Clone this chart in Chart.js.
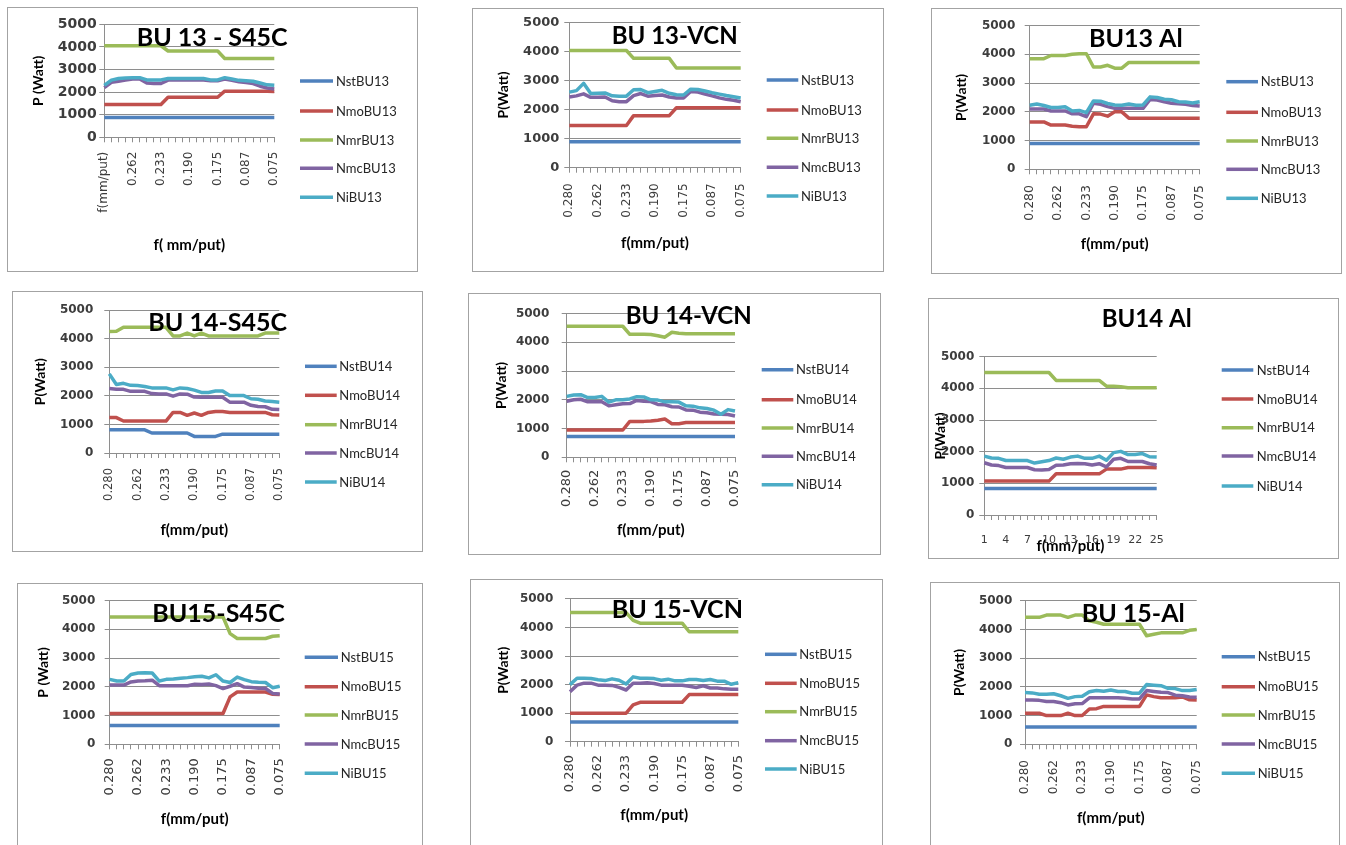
<!DOCTYPE html>
<html>
<head>
<meta charset="utf-8">
<title>Daya pemotongan BU13 / BU14 / BU15</title>
<script src="https://cdn.jsdelivr.net/npm/chart.js@4.4.0/dist/chart.umd.min.js"></script>
<style>
  html, body { margin: 0; padding: 0; background: #fff; width: 1346px; height: 845px; overflow: hidden; }
  .panel { position: absolute; border: 1px solid #a3a3a3; background: #fff; }
  .panel canvas { display: block; }
</style>
</head>
<body>
<script>
// ---- category labels (feed rate f, mm/put) ----
const feedRate = ['0.280', '', '', '', '0.262', '', '', '', '0.233', '', '', '', '0.190', '', '', '', '0.175', '', '', '', '0.087', '', '', '', '0.075'];
const feedRateFirstTitled = ['f(mm/put)', '', '', '', '0.262', '', '', '', '0.233', '', '', '', '0.190', '', '', '', '0.175', '', '', '', '0.087', '', '', '', '0.075'];
const runNo = [1, 2, 3, 4, 5, 6, 7, 8, 9, 10, 11, 12, 13, 14, 15, 16, 17, 18, 19, 20, 21, 22, 23, 24, 25];
const yTicks = [0, 1000, 2000, 3000, 4000, 5000];

// ---- BU 13 - S45C ----
const bu13S45C_Nst = [880, 880, 880, 880, 880, 880, 880, 880, 880, 880, 880, 880, 880, 880, 880, 880, 880, 880, 880, 880, 880, 880, 880, 880, 880];
const bu13S45C_Nmo = [1450, 1450, 1450, 1450, 1450, 1450, 1450, 1450, 1450, 1770, 1770, 1770, 1770, 1770, 1770, 1770, 1770, 2040, 2040, 2040, 2040, 2040, 2040, 2040, 2030];
const bu13S45C_Nmr = [4050, 4050, 4050, 4050, 4050, 4050, 4050, 4050, 4050, 3820, 3820, 3820, 3820, 3820, 3820, 3820, 3820, 3490, 3490, 3490, 3490, 3490, 3490, 3490, 3490];
const bu13S45C_Nmc = [2200, 2430, 2480, 2530, 2580, 2580, 2400, 2380, 2380, 2530, 2530, 2530, 2530, 2530, 2530, 2500, 2500, 2580, 2520, 2460, 2420, 2380, 2260, 2180, 2140];
const bu13S45C_Ni = [2300, 2530, 2600, 2620, 2640, 2640, 2540, 2540, 2540, 2600, 2600, 2600, 2600, 2600, 2600, 2540, 2540, 2640, 2580, 2520, 2500, 2480, 2400, 2320, 2300];

// ---- BU 13 - VCN ----
const bu13VCN_Nst = [890, 890, 890, 890, 890, 890, 890, 890, 890, 890, 890, 890, 890, 890, 890, 890, 890, 890, 890, 890, 890, 890, 890, 890, 890];
const bu13VCN_Nmo = [1450, 1450, 1450, 1450, 1450, 1450, 1450, 1450, 1450, 1790, 1790, 1790, 1790, 1790, 1790, 2060, 2060, 2060, 2060, 2060, 2060, 2060, 2060, 2060, 2060];
const bu13VCN_Nmr = [4030, 4030, 4030, 4030, 4030, 4030, 4030, 4030, 4030, 3760, 3760, 3760, 3760, 3760, 3760, 3430, 3430, 3430, 3430, 3430, 3430, 3430, 3430, 3430, 3430];
const bu13VCN_Nmc = [2430, 2470, 2540, 2420, 2420, 2430, 2300, 2270, 2270, 2480, 2550, 2460, 2480, 2500, 2430, 2400, 2400, 2620, 2600, 2530, 2470, 2400, 2350, 2320, 2270];
const bu13VCN_Ni = [2600, 2650, 2900, 2550, 2560, 2570, 2470, 2460, 2460, 2680, 2690, 2580, 2620, 2660, 2560, 2510, 2500, 2700, 2690, 2640, 2580, 2530, 2480, 2440, 2400];

// ---- BU13 Al ----
const bu13Al_Nst = [900, 900, 900, 900, 900, 900, 900, 900, 900, 900, 900, 900, 900, 900, 900, 900, 900, 900, 900, 900, 900, 900, 900, 900, 900];
const bu13Al_Nmo = [1650, 1650, 1650, 1540, 1540, 1540, 1500, 1480, 1480, 1930, 1920, 1850, 2000, 2000, 1780, 1780, 1780, 1780, 1780, 1780, 1780, 1780, 1780, 1780, 1780];
const bu13Al_Nmr = [3850, 3850, 3850, 3960, 3960, 3960, 4000, 4020, 4020, 3560, 3560, 3620, 3520, 3520, 3720, 3720, 3720, 3720, 3720, 3720, 3720, 3720, 3720, 3720, 3720];
const bu13Al_Nmc = [2100, 2100, 2100, 2030, 2030, 2030, 1930, 1930, 1830, 2300, 2260, 2180, 2120, 2120, 2120, 2120, 2120, 2430, 2410, 2350, 2300, 2280, 2260, 2220, 2200];
const bu13Al_Ni = [2230, 2270, 2220, 2150, 2150, 2180, 2030, 2050, 1970, 2380, 2370, 2290, 2240, 2230, 2270, 2230, 2240, 2520, 2500, 2440, 2420, 2350, 2340, 2310, 2350];

// ---- BU 14 - S45C ----
const bu14S45C_Nst = [810, 810, 810, 810, 810, 810, 700, 700, 700, 700, 700, 700, 580, 580, 580, 580, 660, 660, 660, 660, 660, 660, 660, 660, 660];
const bu14S45C_Nmo = [1240, 1240, 1120, 1120, 1120, 1120, 1120, 1120, 1120, 1420, 1420, 1320, 1400, 1320, 1420, 1450, 1450, 1420, 1420, 1420, 1420, 1420, 1420, 1340, 1330];
const bu14S45C_Nmr = [4250, 4260, 4400, 4400, 4400, 4400, 4400, 4400, 4400, 4100, 4100, 4200, 4100, 4200, 4100, 4100, 4100, 4100, 4100, 4100, 4100, 4100, 4200, 4200, 4200];
const bu14S45C_Nmc = [2260, 2230, 2230, 2160, 2160, 2160, 2080, 2070, 2070, 1990, 2070, 2060, 1960, 1950, 1950, 1950, 1950, 1780, 1780, 1780, 1670, 1630, 1620, 1530, 1520];
const bu14S45C_Ni = [2770, 2400, 2440, 2370, 2360, 2330, 2280, 2280, 2280, 2210, 2280, 2260, 2200, 2120, 2120, 2170, 2170, 2010, 2010, 2010, 1900, 1880, 1820, 1800, 1780];

// ---- BU 14 - VCN ----
const bu14VCN_Nst = [720, 720, 720, 720, 720, 720, 720, 720, 720, 720, 720, 720, 720, 720, 720, 720, 720, 720, 720, 720, 720, 720, 720, 720, 720];
const bu14VCN_Nmo = [950, 950, 950, 950, 950, 950, 950, 950, 950, 1250, 1250, 1250, 1260, 1290, 1330, 1170, 1170, 1210, 1210, 1210, 1210, 1210, 1210, 1210, 1210];
const bu14VCN_Nmr = [4560, 4560, 4560, 4560, 4560, 4560, 4560, 4560, 4560, 4280, 4280, 4280, 4270, 4230, 4180, 4350, 4320, 4300, 4300, 4300, 4300, 4300, 4300, 4300, 4300];
const bu14VCN_Nmc = [1950, 2000, 2020, 1930, 1930, 1930, 1790, 1830, 1860, 1870, 1980, 1950, 1940, 1840, 1830, 1760, 1750, 1650, 1640, 1570, 1550, 1510, 1500, 1490, 1440];
const bu14VCN_Ni = [2120, 2170, 2180, 2080, 2080, 2120, 1920, 2000, 2000, 2030, 2110, 2100, 2000, 1990, 1930, 1930, 1920, 1790, 1780, 1720, 1700, 1640, 1500, 1660, 1610];

// ---- BU14 Al ----
const bu14Al_Nst = [840, 840, 840, 840, 840, 840, 840, 840, 840, 840, 840, 840, 840, 840, 840, 840, 840, 840, 840, 840, 840, 840, 840, 840, 840];
const bu14Al_Nmo = [1070, 1070, 1070, 1070, 1070, 1070, 1070, 1070, 1070, 1070, 1300, 1300, 1300, 1300, 1300, 1300, 1300, 1450, 1450, 1450, 1500, 1500, 1500, 1500, 1490];
const bu14Al_Nmr = [4500, 4500, 4500, 4500, 4500, 4500, 4500, 4500, 4500, 4500, 4250, 4250, 4250, 4250, 4250, 4250, 4250, 4070, 4070, 4050, 4020, 4020, 4020, 4020, 4020];
const bu14Al_Nmc = [1650, 1580, 1560, 1500, 1500, 1500, 1500, 1430, 1420, 1440, 1570, 1580, 1620, 1630, 1620, 1580, 1620, 1520, 1760, 1790, 1690, 1690, 1690, 1620, 1580];
const bu14Al_Ni = [1860, 1800, 1790, 1720, 1720, 1720, 1720, 1640, 1680, 1720, 1800, 1760, 1830, 1860, 1790, 1790, 1860, 1730, 1970, 2010, 1910, 1910, 1940, 1840, 1830];

// ---- BU15 - S45C ----
const bu15S45C_Nst = [650, 650, 650, 650, 650, 650, 650, 650, 650, 650, 650, 650, 650, 650, 650, 650, 650, 650, 650, 650, 650, 650, 650, 650, 650];
const bu15S45C_Nmo = [1070, 1070, 1070, 1070, 1070, 1070, 1070, 1070, 1070, 1070, 1070, 1070, 1070, 1070, 1070, 1070, 1070, 1650, 1820, 1820, 1820, 1820, 1820, 1740, 1730];
const bu15S45C_Nmr = [4430, 4430, 4430, 4430, 4430, 4430, 4430, 4430, 4430, 4430, 4430, 4430, 4430, 4430, 4430, 4430, 4430, 3850, 3680, 3680, 3680, 3680, 3680, 3760, 3780];
const bu15S45C_Nmc = [2060, 2060, 2060, 2170, 2200, 2210, 2230, 2040, 2040, 2040, 2040, 2040, 2090, 2080, 2100, 2040, 1940, 2020, 2110, 1990, 1980, 1950, 1940, 1770, 1750];
const bu15S45C_Ni = [2260, 2200, 2200, 2430, 2480, 2490, 2480, 2200, 2260, 2270, 2300, 2320, 2350, 2370, 2310, 2420, 2200, 2150, 2340, 2250, 2180, 2160, 2150, 1970, 2020];

// ---- BU 15 - VCN ----
const bu15VCN_Nst = [690, 690, 690, 690, 690, 690, 690, 690, 690, 690, 690, 690, 690, 690, 690, 690, 690, 690, 690, 690, 690, 690, 690, 690, 690];
const bu15VCN_Nmo = [1000, 1000, 1000, 1000, 1000, 1000, 1000, 1000, 1000, 1290, 1380, 1380, 1380, 1380, 1380, 1380, 1380, 1650, 1650, 1650, 1650, 1650, 1650, 1650, 1650];
const bu15VCN_Nmr = [4520, 4520, 4520, 4520, 4520, 4520, 4520, 4520, 4520, 4250, 4150, 4150, 4150, 4150, 4150, 4150, 4150, 3850, 3850, 3850, 3850, 3850, 3850, 3850, 3850];
const bu15VCN_Nmc = [1750, 1980, 2050, 2050, 1980, 1980, 1970, 1900, 1810, 2050, 2050, 2060, 2040, 1980, 1980, 1980, 1980, 1940, 1900, 1960, 1880, 1880, 1850, 1840, 1840];
const bu15VCN_Ni = [2000, 2220, 2220, 2210, 2170, 2140, 2200, 2150, 2020, 2270, 2220, 2220, 2210, 2150, 2190, 2130, 2130, 2180, 2180, 2140, 2180, 2120, 2120, 2010, 2070];

// ---- BU 15 - Al ----
const bu15Al_Nst = [600, 600, 600, 600, 600, 600, 600, 600, 600, 600, 600, 600, 600, 600, 600, 600, 600, 600, 600, 600, 600, 600, 600, 600, 600];
const bu15Al_Nmo = [1080, 1080, 1080, 1000, 1000, 1000, 1080, 1000, 1000, 1230, 1240, 1320, 1320, 1320, 1320, 1320, 1320, 1720, 1660, 1620, 1620, 1620, 1650, 1550, 1540];
const bu15Al_Nmr = [4420, 4420, 4420, 4500, 4500, 4500, 4420, 4500, 4500, 4300, 4250, 4180, 4180, 4180, 4180, 4180, 4180, 3780, 3830, 3880, 3880, 3880, 3880, 3970, 4000];
const bu15Al_Nmc = [1540, 1540, 1530, 1490, 1490, 1450, 1370, 1410, 1420, 1620, 1620, 1620, 1620, 1620, 1600, 1580, 1580, 1870, 1840, 1810, 1800, 1710, 1690, 1650, 1640];
const bu15Al_Ni = [1800, 1790, 1740, 1740, 1760, 1690, 1600, 1660, 1670, 1830, 1870, 1850, 1890, 1840, 1840, 1780, 1780, 2080, 2060, 2040, 1950, 1940, 1870, 1870, 1910];

// ---- series names ----
const namesBU13 = ['NstBU13', 'NmoBU13', 'NmrBU13', 'NmcBU13', 'NiBU13'];
const namesBU14 = ['NstBU14', 'NmoBU14', 'NmrBU14', 'NmcBU14', 'NiBU14'];
const namesBU15 = ['NstBU15', 'NmoBU15', 'NmrBU15', 'NmcBU15', 'NiBU15'];
const seriesColors = ['#4F81BD', '#C0504D', '#9BBB59', '#8064A2', '#4BACC6'];

// ---- panel layout (box = outer border in page px, everything else in canvas px) ----
const panels = [
  { title: 'BU 13 - S45C', labels: feedRateFirstTitled, names: namesBU13,
    series: [bu13S45C_Nst, bu13S45C_Nmo, bu13S45C_Nmr, bu13S45C_Nmc, bu13S45C_Ni],
    yTitle: 'P (Watt)', xTitle: 'f( mm/put)',
    box: [7, 7, 417, 271], yWidth: 96.3, padTop: 16.3, padRight: 142.7, plotBottomC: 129.3,
    yTitlePad: 21.9, xTitlePad: 17, yPad: 2.6, ySize: 14, xSize: 12, xPad: 9.4, rot: 90,
    titleX: 128.7, titleY: 37.7, titleSize: 25,
    legX1: 292, legX2: 325, legTX: 328, legY: [73, 103, 132, 160.3, 189.3] },
  { title: 'BU 13-VCN', labels: feedRate, names: namesBU13,
    series: [bu13VCN_Nst, bu13VCN_Nmo, bu13VCN_Nmr, bu13VCN_Nmc, bu13VCN_Ni],
    yTitle: 'P(Watt)', xTitle: 'f(mm/put)',
    box: [472, 8, 883, 271], yWidth: 96.3, padTop: 13.3, padRight: 142.3, plotBottomC: 158.7,
    yTitlePad: 21.9, xTitlePad: 18.7, yPad: 5, ySize: 13, xSize: 12, xPad: 10.6, rot: 90,
    titleX: 138.7, titleY: 35.3, titleSize: 24,
    legX1: 293.7, legX2: 325.3, legTX: 328, legY: [71, 101, 129.3, 158.3, 187] },
  { title: 'BU13 Al', labels: feedRate, names: namesBU13,
    series: [bu13Al_Nst, bu13Al_Nmo, bu13Al_Nmr, bu13Al_Nmc, bu13Al_Ni],
    yTitle: 'P(Watt)', xTitle: 'f(mm/put)',
    box: [931, 8, 1341, 273], yWidth: 97.7, padTop: 15.3, padRight: 141.3, plotBottomC: 160.3,
    yTitlePad: 20.9, xTitlePad: 19.7, yPad: 9.4, ySize: 12, xSize: 12.5, xPad: 10.7, rot: 90,
    titleX: 157, titleY: 37.7, titleSize: 25,
    legX1: 294.3, legX2: 326, legTX: 328.7, legY: [72.7, 103.3, 132, 160.3, 189.3] },
  { title: 'BU 14-S45C', labels: feedRate, names: namesBU14,
    series: [bu14S45C_Nst, bu14S45C_Nmo, bu14S45C_Nmr, bu14S45C_Nmc, bu14S45C_Ni],
    yTitle: 'P(Watt)', xTitle: 'f(mm/put)',
    box: [12, 291, 422, 551], yWidth: 96.3, padTop: 16, padRight: 142.7, plotBottomC: 161,
    yTitlePad: 18.6, xTitlePad: 12, yPad: 11, ySize: 12, xSize: 11.5, xPad: 10, rot: 90,
    titleX: 135.3, titleY: 38.7, titleSize: 25,
    legX1: 292, legX2: 323.7, legTX: 326.3, legY: [74.3, 103.3, 132.7, 161, 190] },
  { title: 'BU 14-VCN', labels: feedRate, names: namesBU14,
    series: [bu14VCN_Nst, bu14VCN_Nmo, bu14VCN_Nmr, bu14VCN_Nmc, bu14VCN_Ni],
    yTitle: 'P(Watt)', xTitle: 'f(mm/put)',
    box: [468, 293, 880, 554], yWidth: 97.7, padTop: 18, padRight: 145, plotBottomC: 163.3,
    yTitlePad: 24.3, xTitlePad: 15, yPad: 12.4, ySize: 12, xSize: 13, xPad: 7.4, rot: 90,
    titleX: 156.7, titleY: 30, titleSize: 24,
    legX1: 292.7, legX2: 324.3, legTX: 327, legY: [75.7, 105.7, 134, 162.3, 190.7] },
  { title: 'BU14 Al', labels: runNo, names: namesBU14, everyThird: true,
    series: [bu14Al_Nst, bu14Al_Nmo, bu14Al_Nmr, bu14Al_Nmc, bu14Al_Ni],
    yTitle: 'P(Watt)', xTitle: 'f(mm/put)',
    box: [928, 298, 1338, 558], yWidth: 55.3, padTop: 57.7, padRight: 181.3, plotBottomC: 216,
    yTitlePad: 2.6, xTitlePad: 3.3, yPad: 5, ySize: 12, xSize: 11, xPad: 13.7, rot: 0,
    titleX: 172.7, titleY: 27.7, titleSize: 24,
    legX1: 292.7, legX2: 324.3, legTX: 327.7, legY: [71, 100, 128.7, 157, 187] },
  { title: 'BU15-S45C', labels: feedRate, names: namesBU15,
    series: [bu15S45C_Nst, bu15S45C_Nmo, bu15S45C_Nmr, bu15S45C_Nmc, bu15S45C_Ni],
    yTitle: 'P (Watt)', xTitle: 'f(mm/put)',
    box: [17, 583, 422, 848], yWidth: 91.7, padTop: 16, padRight: 142.3, plotBottomC: 160.3,
    yTitlePad: 16.6, xTitlePad: 19.7, yPad: 9.4, ySize: 12, xSize: 13, xPad: 9, rot: 90,
    titleX: 134.3, titleY: 37.7, titleSize: 25,
    legX1: 286.7, legX2: 320, legTX: 322.7, legY: [73.3, 102.7, 131, 160, 189.3] },
  { title: 'BU 15-VCN', labels: feedRate, names: namesBU15,
    series: [bu15VCN_Nst, bu15VCN_Nmo, bu15VCN_Nmr, bu15VCN_Nmc, bu15VCN_Ni],
    yTitle: 'P(Watt)', xTitle: 'f(mm/put)',
    box: [470, 579, 882, 848], yWidth: 99, padTop: 17.3, padRight: 143.7, plotBottomC: 161.7,
    yTitlePad: 23.9, xTitlePad: 24, yPad: 11.7, ySize: 12, xSize: 13, xPad: 8.3, rot: 90,
    titleX: 140.7, titleY: 38.3, titleSize: 25,
    legX1: 294, legX2: 325.7, legTX: 328.3, legY: [74.3, 103.3, 131.7, 160.7, 189] },
  { title: 'BU 15-Al', labels: feedRate, names: namesBU15,
    series: [bu15Al_Nst, bu15Al_Nmo, bu15Al_Nmr, bu15Al_Nmc, bu15Al_Ni],
    yTitle: 'P(Watt)', xTitle: 'f(mm/put)',
    box: [930, 582, 1339, 848], yWidth: 94, padTop: 17.7, padRight: 142.3, plotBottomC: 161.3,
    yTitlePad: 19.9, xTitlePad: 20.7, yPad: 7.7, ySize: 12, xSize: 12, xPad: 10.7, rot: 90,
    titleX: 150.7, titleY: 38.7, titleSize: 25,
    legX1: 290.7, legX2: 324, legTX: 326.7, legY: [73.7, 103.7, 132, 161, 190.3] }
];

const GRID = '#8e8e8e';
const TICK = '#3d3d3d';

// chart title + line legend, drawn above the series
const panelDecor = {
  id: 'panelDecor',
  afterDatasetsDraw(chart, _args, o) {
    const ctx = chart.ctx;
    ctx.save();
    chart.data.datasets.forEach((ds, i) => {
      const y = o.legY[i];
      ctx.strokeStyle = ds.borderColor;
      ctx.lineWidth = ds.borderWidth;
      ctx.lineCap = 'butt';
      ctx.beginPath();
      ctx.moveTo(o.legX1, y);
      ctx.lineTo(o.legX2, y);
      ctx.stroke();
      ctx.fillStyle = '#262626';
      ctx.font = '13px Lato';
      ctx.textAlign = 'left';
      ctx.textBaseline = 'middle';
      ctx.fillText(ds.label, o.legTX, y + 0.5);
    });
    ctx.fillStyle = '#000';
    ctx.font = 'bold ' + o.titleSize + 'px Lato';
    ctx.textAlign = 'left';
    ctx.textBaseline = 'alphabetic';
    ctx.fillText(o.title, o.titleX, o.titleY);
    ctx.restore();
  }
};

function buildPanel(p) {
  const [L, T, R, B] = p.box;
  const W = R - L - 1, H = B - T - 1;
  const div = document.createElement('div');
  div.className = 'panel';
  div.style.left = L + 'px';
  div.style.top = T + 'px';
  div.style.width = W + 'px';
  div.style.height = H + 'px';
  const canvas = document.createElement('canvas');
  canvas.width = W;
  canvas.height = H;
  canvas.style.width = W + 'px';
  canvas.style.height = H + 'px';
  div.appendChild(canvas);
  document.body.appendChild(div);

  new Chart(canvas.getContext('2d'), {
    type: 'line',
    data: {
      labels: p.labels,
      datasets: p.series.map((vals, i) => ({
        label: p.names[i],
        data: vals,
        borderColor: seriesColors[i],
        backgroundColor: seriesColors[i],
        borderWidth: 3.5,
        pointRadius: 0,
        pointHoverRadius: 0,
        tension: 0,
        fill: false,
        borderJoinStyle: 'round',
        borderCapStyle: 'butt',
        order: 4 - i
      }))
    },
    options: {
      responsive: false,
      animation: false,
      devicePixelRatio: 1,
      events: [],
      layout: { padding: { left: 0, top: p.padTop, right: p.padRight, bottom: 0 } },
      plugins: {
        legend: { display: false },
        tooltip: { enabled: false },
        panelDecor: {
          title: p.title, titleX: p.titleX, titleY: p.titleY, titleSize: p.titleSize,
          legX1: p.legX1, legX2: p.legX2, legTX: p.legTX, legY: p.legY
        }
      },
      scales: {
        x: {
          type: 'category',
          offset: false,
          grid: { display: true, drawOnChartArea: false, drawTicks: true, tickLength: 5, color: GRID, offset: false },
          border: { display: true, color: GRID, width: 1 },
          ticks: {
            autoSkip: false,
            minRotation: p.rot,
            maxRotation: p.rot,
            padding: p.xPad,
            color: TICK,
            font: { family: 'DejaVu Sans', size: p.xSize },
            callback(value, index) {
              const lab = this.getLabelForValue(value);
              if (p.everyThird) return index % 3 === 0 ? String(lab) : '';
              return lab;
            }
          },
          title: {
            display: true, text: p.xTitle, color: '#000',
            font: { family: 'Lato', weight: 'bold', size: 15, lineHeight: 1.2 },
            padding: { top: 0, bottom: p.xTitlePad }
          },
          afterFit(scale) { scale.height = H - p.plotBottomC; }
        },
        y: {
          min: yTicks[0],
          max: yTicks[yTicks.length - 1],
          grid: { color: GRID, drawTicks: true, tickLength: 5 },
          border: { display: true, color: GRID, width: 1 },
          ticks: {
            stepSize: yTicks[1] - yTicks[0],
            padding: p.yPad,
            color: TICK,
            font: { family: 'DejaVu Sans', weight: 'bold', size: p.ySize },
            callback: (value) => String(value)
          },
          title: {
            display: true, text: p.yTitle, color: '#000',
            font: { family: 'Lato', weight: 'bold', size: 14, lineHeight: 1.2 },
            padding: { top: p.yTitlePad, bottom: 0 }
          },
          afterFit(scale) { scale.width = p.yWidth; }
        }
      }
    },
    plugins: [panelDecor]
  });
}

function drawAll() { panels.forEach(buildPanel); }

const fontSpecs = ['bold 25px Lato', '13px Lato', '12px "DejaVu Sans"', 'bold 12px "DejaVu Sans"'];
if (document.fonts && document.fonts.load) {
  Promise.all(fontSpecs.map(f => document.fonts.load(f))).then(drawAll, drawAll);
} else {
  drawAll();
}
</script>
</body>
</html>
